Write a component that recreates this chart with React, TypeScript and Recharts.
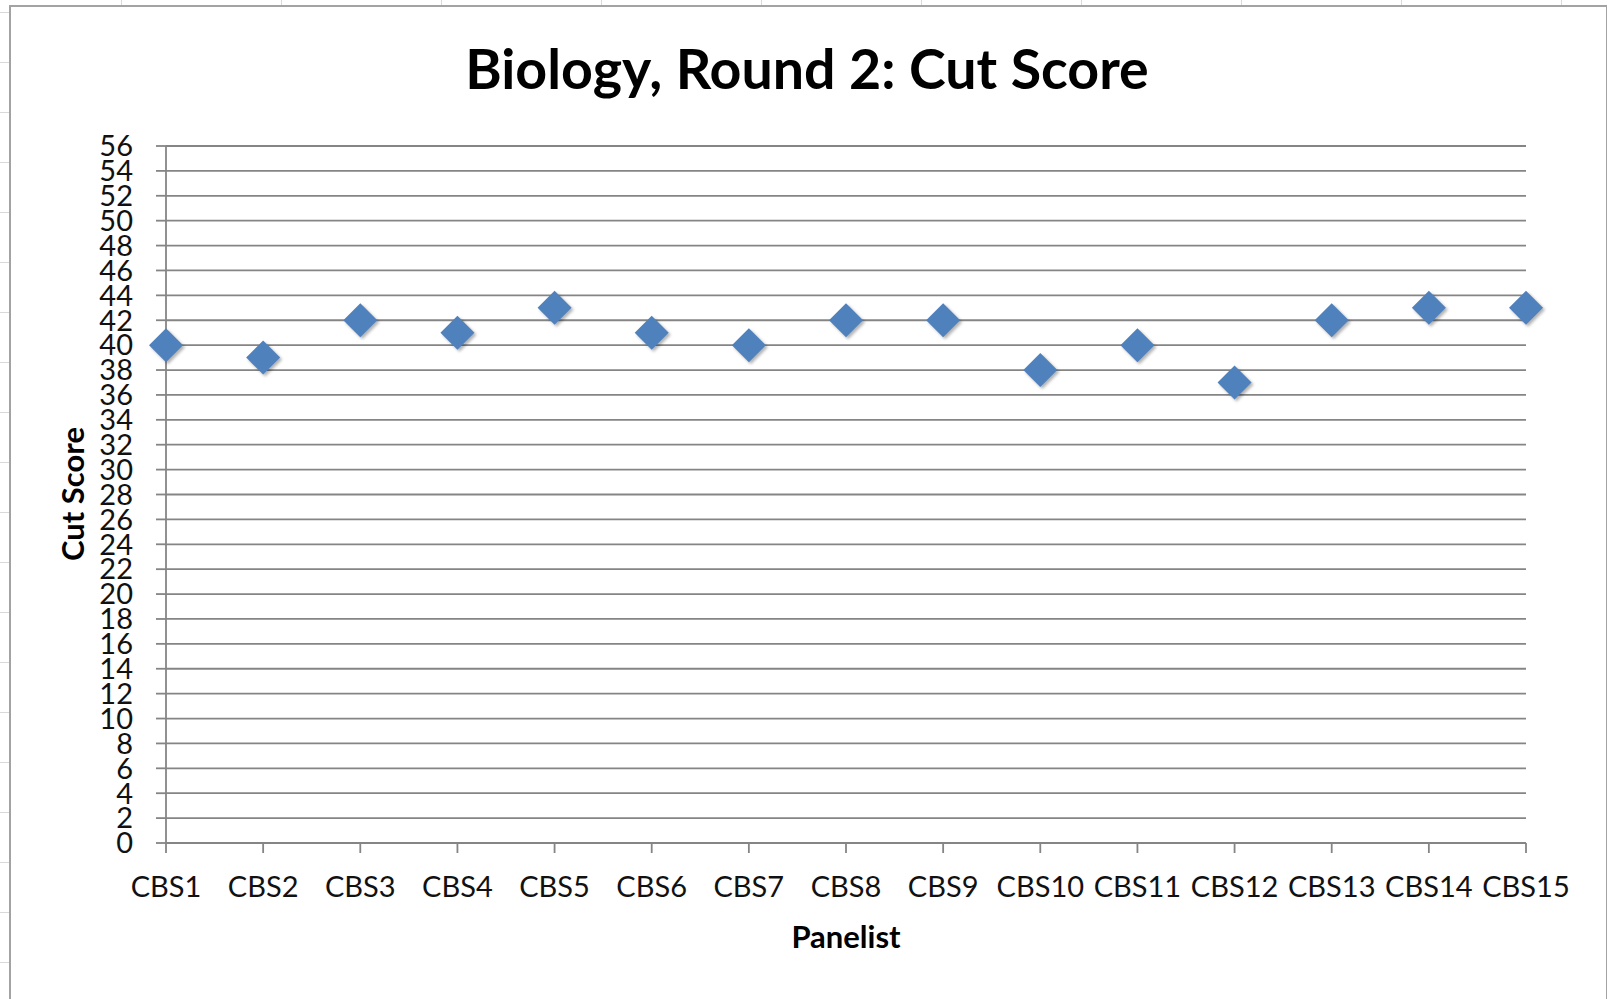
import { LineChart, Line, XAxis, YAxis, CartesianGrid } from 'recharts';

const panelists = [
  'CBS1', 'CBS2', 'CBS3', 'CBS4', 'CBS5', 'CBS6', 'CBS7', 'CBS8',
  'CBS9', 'CBS10', 'CBS11', 'CBS12', 'CBS13', 'CBS14', 'CBS15',
];
const cutScores = [40, 39, 42, 41, 43, 41, 40, 42, 42, 38, 40, 37, 42, 43, 43];
const yTicks = [
  0, 2, 4, 6, 8, 10, 12, 14, 16, 18, 20, 22, 24, 26, 28,
  30, 32, 34, 36, 38, 40, 42, 44, 46, 48, 50, 52, 54, 56,
];

const FONT = 'Lato, "Open Sans", sans-serif';
const GRID = '#858585';
const MARKER = '#4f81bd';

const data = panelists.map((p, i) => ({ panelist: p, score: cutScores[i] }));

function Diamond(props: any) {
  const { cx, cy, index } = props;
  if (cx == null || cy == null) return null;
  const r = 17;
  return (
    <path
      key={`d-${index}`}
      d={`M${cx},${cy - r} L${cx + r},${cy} L${cx},${cy + r} L${cx - r},${cy} Z`}
      fill={MARKER}
      style={{ filter: 'drop-shadow(2px 2px 1.5px rgba(0,0,0,0.3))' }}
    />
  );
}

export default function App() {
  return (
    <div
      style={{
        position: 'absolute',
        left: 0,
        top: 0,
        width: 1607,
        height: 999,
        overflow: 'hidden',
        background: '#fff',
        backgroundImage:
          'repeating-linear-gradient(to right, transparent 0 120px, #d9d9d9 120px 121px, transparent 121px 160px), repeating-linear-gradient(to bottom, transparent 0 12px, #d9d9d9 12px 13px, transparent 13px 50px)',
        backgroundPosition: '1px 0, 0 0',
      }}
    >
      <div
        style={{
          position: 'absolute',
          left: 9,
          top: 5,
          width: 1595,
          height: 992,
          background: '#fff',
          border: '2px solid #a3a3a3',
          borderRightWidth: 3,
        }}
      />
      <div
        style={{
          position: 'absolute',
          left: 0,
          width: 1614,
          top: 35,
          textAlign: 'center',
          fontFamily: FONT,
          fontWeight: 700,
          fontSize: 55.5,
          lineHeight: '66px',
          color: '#000',
        }}
      >
        Biology, Round 2: Cut Score
      </div>
      <div
        style={{
          position: 'absolute',
          left: 72,
          top: 494,
          transform: 'translate(-50%, -50%) rotate(-90deg)',
          fontFamily: FONT,
          fontWeight: 700,
          fontSize: 31,
          whiteSpace: 'nowrap',
          color: '#000',
        }}
      >
        Cut Score
      </div>
      <div
        style={{
          position: 'absolute',
          left: 846,
          top: 936,
          transform: 'translate(-50%, -50%)',
          fontFamily: FONT,
          fontWeight: 700,
          fontSize: 31,
          whiteSpace: 'nowrap',
          color: '#000',
        }}
      >
        Panelist
      </div>
      <div style={{ position: 'absolute', left: 0, top: 0 }}>
        <LineChart
          width={1607}
          height={999}
          data={data}
          margin={{ top: 146, right: 81, bottom: 96, left: 66 }}
        >
          <CartesianGrid vertical={false} stroke={GRID} strokeWidth={1.8} />
          <XAxis
            dataKey="panelist"
            interval={0}
            stroke={GRID}
            strokeWidth={1.8}
            tickSize={10}
            tickMargin={23}
            height={60}
            tick={{ fill: '#111', fontSize: 29, fontFamily: FONT }}
          />
          <YAxis
            type="number"
            domain={[0, 56]}
            ticks={yTicks}
            interval={0}
            width={100}
            stroke={GRID}
            strokeWidth={1.8}
            tickSize={10}
            tickMargin={23}
            tick={{ fill: '#111', fontSize: 29, fontFamily: FONT }}
          />
          <Line
            dataKey="score"
            stroke="none"
            dot={Diamond}
            activeDot={false}
            isAnimationActive={false}
          />
        </LineChart>
      </div>
    </div>
  );
}
